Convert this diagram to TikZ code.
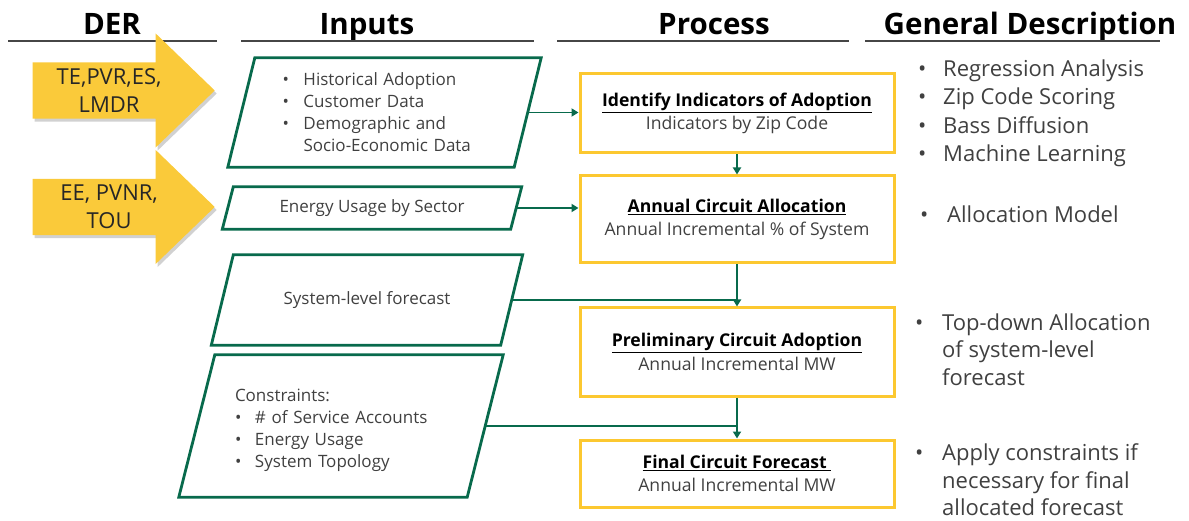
\documentclass[tikz,border=0pt]{standalone}
\usepackage{fontspec}
\setmainfont{Open Sans}
\usetikzlibrary{shapes.arrows, arrows.meta, shadows}

\definecolor{deryellow}{RGB}{250,202,58}
\definecolor{inputgreen}{RGB}{8,106,76}
\definecolor{procyellow}{RGB}{252,200,48}
\definecolor{bodygray}{RGB}{64,64,64}
\definecolor{rulegray}{RGB}{70,70,70}

\newcommand{\bulletbox}[1]{\makebox[#1][l]{\textbullet}}
% slanted frame round an input node: #1 node, #2 half of the slant
\newcommand{\slantframe}[2]{%
  \draw[inframe] ([xshift=#2]#1.north west) -- ([xshift=#2]#1.north east)
    -- ([xshift=-#2]#1.south east) -- ([xshift=-#2]#1.south west) -- cycle;}

\tikzset{
  header/.style={font=\fontsize{29.5}{32}\selectfont\bfseries, text=black, inner sep=0pt, anchor=base},
  headrule/.style={draw=rulegray, line width=2.4pt},
  derarrow/.style={single arrow, fill=deryellow, single arrow head extend=29pt,
    single arrow tip angle=88, minimum height=182pt, inner xsep=0pt, inner ysep=6pt,
    align=center, text=black!85, font=\fontsize{22}{28}\selectfont, anchor=tip,
    drop shadow={shadow xshift=2pt, shadow yshift=-3pt, opacity=0.3, fill=black!60}},
  inputbox/.style={rectangle, inner sep=0pt, text=bodygray,
    font=\fontsize{17}{22}\selectfont},
  inframe/.style={draw=inputgreen, line width=2.8pt},
  procbox/.style={draw=procyellow, line width=3pt, minimum width=314pt, align=center,
    text=bodygray, font=\fontsize{17.6}{23.5}\selectfont},
  flow/.style={draw=inputgreen, line width=1.9pt, -{Triangle[length=7pt,width=8pt]}},
  feed/.style={draw=inputgreen, line width=1.9pt},
  desc/.style={anchor=north west, align=left, inner sep=0pt, text=bodygray,
    font=\fontsize{22}{28.5}\selectfont},
}

\begin{document}
\begin{tikzpicture}[x=1pt, y=-1pt]
  \useasboundingbox (0,0) rectangle (1189,521);

  % column headers
  \node[header] (hder) at (112,35) {DER};
  \node[header] (hinp) at (367,35) {Inputs};
  \node[header] (hproc) at (714,35) {Process};
  \node[header] (hdesc) at (1030,35) {General Description};
  \draw[headrule] (8,41) -- (217,41);
  \draw[headrule] (241,41) -- (534,41);
  \draw[headrule] (557,41) -- (849,41);
  \draw[headrule] (865,41) -- (1160,41);

  % DER arrows
  \node[derarrow] (der1) at (215,90.5) {TE,PVR,ES,\\LMDR};
  \node[derarrow] (der2) at (215,207) {EE, PVNR,\\TOU};

  % inputs
  \node[inputbox, minimum width=286pt, minimum height=109pt, text width=204pt, align=left]
    (hist) at (384.5,112.5) {\bulletbox{21pt}Historical Adoption\\
      \bulletbox{21pt}Customer Data\\
      \bulletbox{21pt}Demographic and\\
      \hspace*{21pt}Socio-Economic Data};
  \node[inputbox, minimum width=288pt, minimum height=42pt, align=center]
    (energy) at (372,208) {Energy Usage by Sector};
  \node[inputbox, minimum width=289pt, minimum height=90pt, align=center]
    (sysfc) at (367,300) {System-level forecast};
  \node[inputbox, minimum width=288pt, minimum height=142pt, text width=212pt, align=left]
    (constr) at (341,426) {\rule{0pt}{21pt}Constraints:\\
      \bulletbox{20pt}\# of Service Accounts\\
      \bulletbox{20pt}Energy Usage\\
      \bulletbox{20pt}System Topology};
  \slantframe{hist}{13.5pt}
  \slantframe{energy}{5.5pt}
  \slantframe{sysfc}{11pt}
  \slantframe{constr}{18pt}

  % process steps
  \node[procbox, minimum height=79pt] (idind) at (737,113.5)
    {\textcolor{black}{\underline{\textbf{Identify Indicators of Adoption}}}\\Indicators by Zip Code};
  \node[procbox, minimum height=87pt] (alloc) at (737,219.5)
    {\textcolor{black}{\underline{\textbf{Annual Circuit Allocation}}}\\Annual Incremental \% of System};
  \node[procbox, minimum height=88pt] (prelim) at (737,352)
    {\textcolor{black}{\underline{\textbf{Preliminary Circuit Adoption}}}\\Annual Incremental MW};
  \node[procbox, minimum height=67pt] (final) at (737,473.5)
    {\textcolor{black}{\underline{\textbf{Final Circuit Forecast\ }}}\\Annual Incremental MW};

  % connectors
  \draw[flow] (hist.east) -- (hist.east -| idind.west);
  \draw[flow] (energy.east) -- (energy.east -| alloc.west);
  \draw[flow] (idind.south) -- (alloc.north);
  \draw[flow] (alloc.south) -- (prelim.north);
  \draw[flow] (prelim.south) -- (final.north);
  \draw[feed] (sysfc.east) -- (sysfc.east -| prelim.north);
  \draw[feed] (constr.east) -- (constr.east -| final.north);

  % general description
  \node[desc] (dreg) at (918,59.5) {\bulletbox{25pt}Regression Analysis\\
    \bulletbox{25pt}Zip Code Scoring\\
    \bulletbox{25pt}Bass Diffusion\\
    \bulletbox{25pt}Machine Learning};
  \node[desc] (dalloc) at (920,205.5) {\bulletbox{27pt}Allocation Model};
  \node[desc, font=\fontsize{22}{27.5}\selectfont] (dtop) at (915,313.5)
    {\bulletbox{27pt}Top-down Allocation\\
    \hspace*{27pt}of system-level\\
    \hspace*{27pt}forecast};
  \node[desc, font=\fontsize{22}{27.5}\selectfont] (dapply) at (915,443.5)
    {\bulletbox{27pt}Apply constraints if\\
    \hspace*{27pt}necessary for final\\
    \hspace*{27pt}allocated forecast};
\end{tikzpicture}
\end{document}
